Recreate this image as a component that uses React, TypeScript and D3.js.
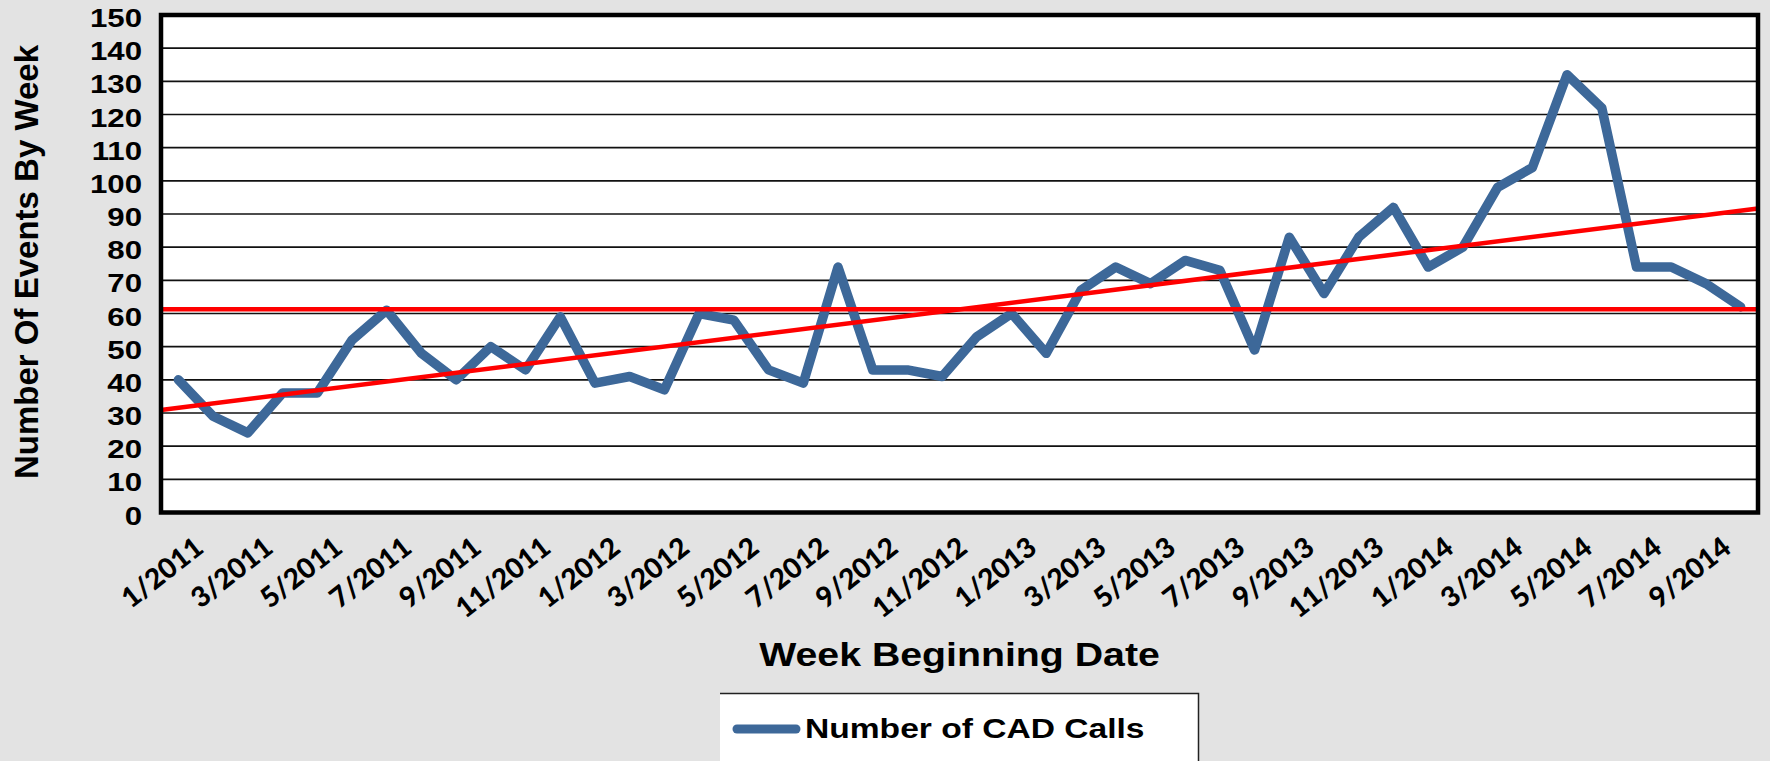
import React, { useRef, useEffect } from 'react';
import * as d3 from 'd3';

// one point per month, Jan 2011 .. Oct 2014
const months = [
  '1/2011', '2/2011', '3/2011', '4/2011', '5/2011', '6/2011', '7/2011', '8/2011', '9/2011', '10/2011', '11/2011', '12/2011',
  '1/2012', '2/2012', '3/2012', '4/2012', '5/2012', '6/2012', '7/2012', '8/2012', '9/2012', '10/2012', '11/2012', '12/2012',
  '1/2013', '2/2013', '3/2013', '4/2013', '5/2013', '6/2013', '7/2013', '8/2013', '9/2013', '10/2013', '11/2013', '12/2013',
  '1/2014', '2/2014', '3/2014', '4/2014', '5/2014', '6/2014', '7/2014', '8/2014', '9/2014', '10/2014',
];

const cadCalls = [
  40, 29, 24, 36, 36, 52, 61, 48, 40, 50, 43, 59,
  39, 41, 37, 60, 58, 43, 39, 74, 43, 43, 41, 53,
  60, 48, 67, 74, 69, 76, 73, 49, 83, 66, 83, 92,
  74, 80, 98, 104, 132, 122, 74, 74, 69, 62,
];

const yTicks = [0, 10, 20, 30, 40, 50, 60, 70, 80, 90, 100, 110, 120, 130, 140, 150];

const seriesName = 'Number of CAD Calls';
const xTitle = 'Week Beginning Date';
const yTitle = 'Number Of Events By Week';

const width = 1770;
const height = 761;
const plot = { left: 161, right: 1758, top: 15, bottom: 512.5 };

const blue = '#3d6899';
const red = '#ff0000';
const arial = '"Liberation Sans", Arial, sans-serif';

const App = () => {
  const ref = useRef<SVGSVGElement | null>(null);

  useEffect(() => {
    if (!ref.current) return;
    const svg = d3.select(ref.current);
    svg.selectAll('*').remove();

    svg
      .append('rect')
      .attr('width', width)
      .attr('height', height)
      .attr('fill', '#e3e3e3');

    const x = d3.scaleBand().domain(months).range([plot.left, plot.right]);
    const xIdx = d3
      .scaleLinear()
      .domain([-0.5, months.length - 0.5])
      .range([plot.left, plot.right]);
    const y = d3.scaleLinear().domain([0, 150]).range([plot.bottom, plot.top]);
    const xc = (i: number) => (x(months[i]) as number) + x.bandwidth() / 2;

    svg
      .append('rect')
      .attr('x', plot.left)
      .attr('y', plot.top)
      .attr('width', plot.right - plot.left)
      .attr('height', plot.bottom - plot.top)
      .attr('fill', '#fff');

    // gridlines
    svg
      .append('g')
      .selectAll('line')
      .data(yTicks)
      .enter()
      .append('line')
      .attr('x1', plot.left)
      .attr('x2', plot.right)
      .attr('y1', d => y(d))
      .attr('y2', d => y(d))
      .attr('stroke', '#111')
      .attr('stroke-width', 1.6);

    // y tick labels
    svg
      .append('g')
      .selectAll('text')
      .data(yTicks)
      .enter()
      .append('text')
      .attr('transform', d => `translate(142,${y(d) + 12}) scale(1.2,1)`)
      .attr('text-anchor', 'end')
      .attr('font-family', arial)
      .attr('font-weight', 'bold')
      .attr('font-size', 26)
      .attr('fill', '#000')
      .text(d => d);

    // x tick labels, every other month
    svg
      .append('g')
      .selectAll('text')
      .data(months.filter((m, i) => i % 2 === 0))
      .enter()
      .append('text')
      .attr('transform', (d, j) => `translate(${xc(j * 2) + 27},551) rotate(-38)`)
      .attr('text-anchor', 'end')
      .attr('font-family', 'Lato, "Open Sans", sans-serif')
      .attr('font-weight', 900)
      .attr('font-size', 28)
      .attr('fill', '#000')
      .text(d => d);

    // the series
    const line = d3
      .line<number>()
      .x((d, i) => xc(i))
      .y(d => y(d));

    svg
      .append('path')
      .attr('d', line(cadCalls))
      .attr('fill', 'none')
      .attr('stroke', blue)
      .attr('stroke-width', 9.5)
      .attr('stroke-linejoin', 'round')
      .attr('stroke-linecap', 'round');

    // mean and linear trend
    const n = cadCalls.length;
    const meanY = d3.mean(cadCalls) as number;
    const meanX = (n - 1) / 2;
    const sxy = d3.sum(cadCalls, (v, i) => (i - meanX) * (v - meanY));
    const sxx = d3.sum(cadCalls, (v, i) => (i - meanX) * (i - meanX));
    const slope = sxy / sxx;
    const trendAt = (i: number) => meanY + slope * (i - meanX);

    svg
      .append('line')
      .attr('x1', plot.left)
      .attr('x2', plot.right)
      .attr('y1', y(meanY))
      .attr('y2', y(meanY))
      .attr('stroke', red)
      .attr('stroke-width', 4.5);

    svg
      .append('line')
      .attr('x1', xIdx(-0.5))
      .attr('x2', xIdx(n - 0.5))
      .attr('y1', y(trendAt(-0.5)))
      .attr('y2', y(trendAt(n - 0.5)))
      .attr('stroke', red)
      .attr('stroke-width', 4.5);

    // plot border
    svg
      .append('rect')
      .attr('x', plot.left)
      .attr('y', plot.top)
      .attr('width', plot.right - plot.left)
      .attr('height', plot.bottom - plot.top)
      .attr('fill', 'none')
      .attr('stroke', '#000')
      .attr('stroke-width', 4.5);

    // axis titles
    svg
      .append('text')
      .attr('transform', `translate(${(plot.left + plot.right) / 2},666) scale(1.155,1)`)
      .attr('text-anchor', 'middle')
      .attr('font-family', arial)
      .attr('font-weight', 'bold')
      .attr('font-size', 34)
      .text(xTitle);

    svg
      .append('text')
      .attr('transform', 'translate(38,262) rotate(-90)')
      .attr('text-anchor', 'middle')
      .attr('font-family', arial)
      .attr('font-weight', 'bold')
      .attr('font-size', 33)
      .text(yTitle);

    // legend
    const lg = svg.append('g');
    lg.append('rect')
      .attr('x', 720)
      .attr('y', 693)
      .attr('width', 479)
      .attr('height', 80)
      .attr('fill', '#fff');
    lg.append('path')
      .attr('d', 'M720,693.5 H1198.5 V761')
      .attr('fill', 'none')
      .attr('stroke', '#222')
      .attr('stroke-width', 1.5);
    lg.append('line')
      .attr('x1', 737)
      .attr('x2', 796)
      .attr('y1', 729)
      .attr('y2', 729)
      .attr('stroke', blue)
      .attr('stroke-width', 9)
      .attr('stroke-linecap', 'round');
    lg.append('text')
      .attr('transform', 'translate(805,738) scale(1.2,1)')
      .attr('font-family', arial)
      .attr('font-weight', 'bold')
      .attr('font-size', 28)
      .text(seriesName);
  }, []);

  return (
    <svg
      ref={ref}
      width={width}
      height={height}
      style={{ position: 'absolute', left: 0, top: 0, display: 'block' }}
    />
  );
};

export default App;
